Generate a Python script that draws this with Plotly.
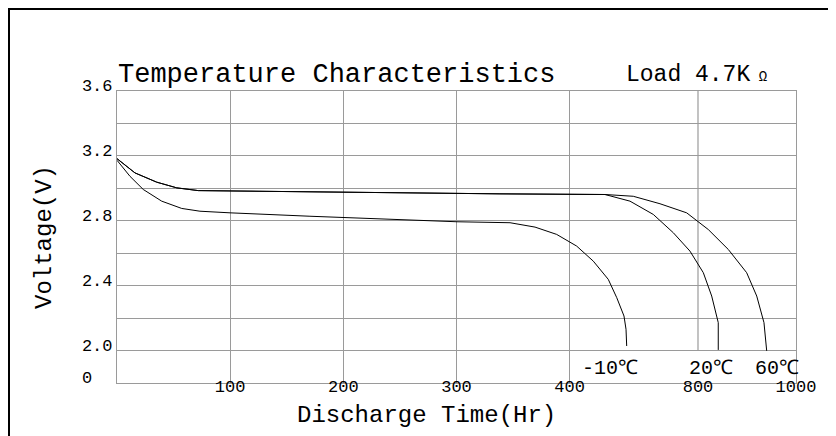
import plotly.graph_objects as go

# ---- data (x in chart-axis units: gridlines 100..400 linear, then 800 and 1000 on a compressed scale) ----
x_tick_pos = [100, 200, 300, 400, 513.4, 600]
x_tick_text = ["100", "200", "300", "400", "800", "1000"]
x_grid_full = [100, 200, 300, 400]
x_grid_partial = 513.4

y_tick_vals = [1.8, 2.0, 2.4, 2.8, 3.2, 3.6]
y_tick_text = ["0\u00a0\u00a0", "2.0", "2.4", "2.8", "3.2", "3.6"]
y_grid_minor = [2.2, 2.6, 3.0, 3.4]

shared_x = [0, 15.9, 35.1, 52.8, 71.8, 170.5, 338.4, 431.2]
shared_v = [3.183, 3.095, 3.038, 3.003, 2.986, 2.978, 2.966, 2.962]

t60_x = shared_x + [456.2, 479.8, 503.4, 522.5, 540.2, 556.4, 565.3, 571.7, 574.1]
t60_v = shared_v + [2.951, 2.905, 2.849, 2.746, 2.623, 2.480, 2.336, 2.172, 1.998]

t20_x = shared_x + [453.3, 473.9, 491.6, 506.3, 518.1, 525.5, 531.3, 531.3]
t20_v = shared_v + [2.921, 2.839, 2.726, 2.613, 2.480, 2.336, 2.172, 2.004]

tm10_x = [0, 11.5, 23.2, 39.5, 57.2, 73.3, 99.9, 170.5, 300.4, 347.3, 369.4, 388.5,
          406.2, 420.9, 434.1, 441.6, 448.0, 449.8, 450.4]
tm10_v = [3.173, 3.074, 2.993, 2.921, 2.876, 2.859, 2.849, 2.828, 2.794, 2.788, 2.761, 2.716,
          2.644, 2.551, 2.439, 2.326, 2.213, 2.131, 2.028]

series = [("-10℃", tm10_x, tm10_v, -17), ("20℃", t20_x, t20_v, -7), ("60℃", t60_x, t60_v, 10)]

# ---- layout geometry (page body has an 8px margin) ----
OFF = 8
W, H = 836 - OFF, 436 - OFF
ML, MT = 117 - OFF, 91 - OFF
MR = W - (796 - OFF)
MB = H - (383 - OFF)
PW, PH = W - ML - MR, H - MT - MB

def px_x(px):
    return (px - OFF - ML) / PW

def px_y(py):
    return (H - MB - (py - OFF)) / PH

FONT = "Liberation Mono, Courier New, monospace"
GRID = "#9a9a9a"

fig = go.Figure()
for name, xs, vs, _ in series:
    fig.add_trace(go.Scatter(x=xs, y=vs, mode="lines", name=name,
                             line=dict(color="black", width=1), showlegend=False,
                             hoverinfo="skip"))

for name, xs, vs, shift in series:
    fig.add_annotation(x=xs[-1], y=1.97, xref="x", yref="y", text=name, showarrow=False,
                       xanchor="center", yanchor="top", xshift=shift, yshift=0,
                       font=dict(family=FONT, size=20, color="black"))

fig.add_shape(type="line", xref="x", yref="y", x0=x_grid_partial, x1=x_grid_partial,
              y0=2.0, y1=3.6, line=dict(color=GRID, width=1.2), layer="below")

# figure border (top and left)
fig.add_shape(type="line", xref="paper", yref="paper", x0=px_x(8), x1=px_x(850),
              y0=px_y(9), y1=px_y(9), line=dict(color="black", width=2))
fig.add_shape(type="line", xref="paper", yref="paper", x0=px_x(9), x1=px_x(9),
              y0=px_y(8), y1=px_y(450), line=dict(color="black", width=2))

fig.add_annotation(xref="paper", yref="paper", x=px_x(116), y=px_y(75),
                   text="Temperature Characteristics", showarrow=False,
                   xanchor="left", yanchor="middle",
                   font=dict(family=FONT, size=27, color="black"))
fig.add_annotation(xref="paper", yref="paper", x=px_x(624), y=px_y(75),
                   text="Load 4.7K<span style=\"font-size:14px\">\u00a0Ω</span>",
                   showarrow=False, xanchor="left", yanchor="middle",
                   font=dict(family=FONT, size=23, color="black"))
fig.add_annotation(xref="paper", yref="paper", x=px_x(426), y=px_y(416),
                   text="Discharge Time(Hr)", showarrow=False,
                   xanchor="center", yanchor="middle",
                   font=dict(family=FONT, size=24, color="black"))
fig.add_annotation(xref="paper", yref="paper", x=px_x(44), y=px_y(237),
                   text="Voltage(V)", showarrow=False, textangle=-90,
                   xanchor="center", yanchor="middle",
                   font=dict(family=FONT, size=24, color="black"))

fig.update_layout(
    width=W, height=H,
    margin=dict(l=ML, r=MR, t=MT, b=MB, autoexpand=False),
    paper_bgcolor="white", plot_bgcolor="white",
    xaxis=dict(range=[0, 600], tickmode="array", tickvals=x_tick_pos, ticktext=x_tick_text,
               showgrid=False, zeroline=False, ticks="",
               showline=True, linecolor=GRID, linewidth=1.2, mirror=True,
               tickfont=dict(family=FONT, size=17, color="black"),
               ticklabelstandoff=-13,
               minor=dict(tickmode="array", tickvals=x_grid_full, showgrid=True,
                          gridcolor=GRID, gridwidth=1.2, ticks="")),
    yaxis=dict(range=[1.8, 3.6], tickmode="array", tickvals=y_tick_vals, ticktext=y_tick_text,
               showgrid=True, gridcolor=GRID, gridwidth=1.2, zeroline=False, ticks="",
               showline=True, linecolor=GRID, linewidth=1.2, mirror=True,
               tickfont=dict(family=FONT, size=17, color="black"),
               ticklabelshift=-6,
               minor=dict(tickmode="array", tickvals=y_grid_minor, showgrid=True,
                          gridcolor=GRID, gridwidth=1.2, ticks="")),
)

fig.write_html("out.html")
